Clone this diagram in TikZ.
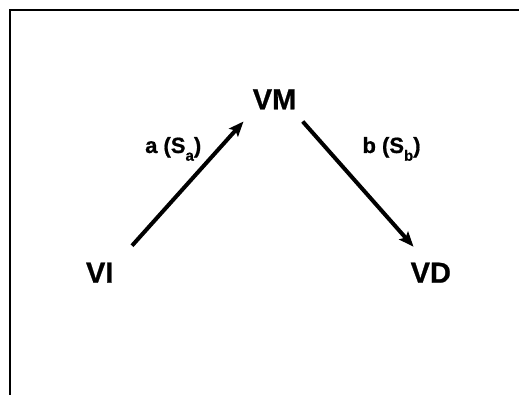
\documentclass[tikz,border=0pt]{standalone}
\usepackage{fontspec}
\setmainfont{Liberation Sans}
\newfontfamily\heavy{Liberation Sans}[FakeBold=0.8]
\usetikzlibrary{arrows.meta}
\tikzset{
  var/.style={font=\heavy\fontsize{29}{32}\selectfont\bfseries, inner sep=0pt, anchor=base},
  lbl/.style={font=\heavy\fontsize{22}{24}\selectfont\bfseries, inner sep=0pt, anchor=base west},
  path/.style={line width=4pt, -{Stealth[length=15pt,width=12pt,inset=3pt]}},
  frame/.style={line width=2.5pt}
}
\newcommand{\sbx}[1]{\raisebox{-0.35em}{\fontsize{15}{16}\selectfont #1}}
\begin{document}
\begin{tikzpicture}[x=1pt,y=1pt]
\useasboundingbox (0,0) rectangle (519,395);
\draw[frame] (520,385) -- (10,385) -- (10,-1);
\node[var] (VM) at (274.5,285.7) {VM};
\node[var] (VI) at (99.7,112.3) {VI};
\node[var] (VD) at (430.8,112.3) {VD};
\coordinate (a1) at (132,149.3);
\coordinate (a2) at (243.5,273.5);
\coordinate (b1) at (302.7,273.5);
\coordinate (b2) at (413.5,148.3);
\draw[path] (a1) -- (a2);
\draw[path] (b1) -- (b2);
\node[lbl] (la) at (145,242) {a (S\sbx{a})};
\node[lbl] (lb) at (362.3,242) {b (S\sbx{b})};
\end{tikzpicture}
\end{document}
